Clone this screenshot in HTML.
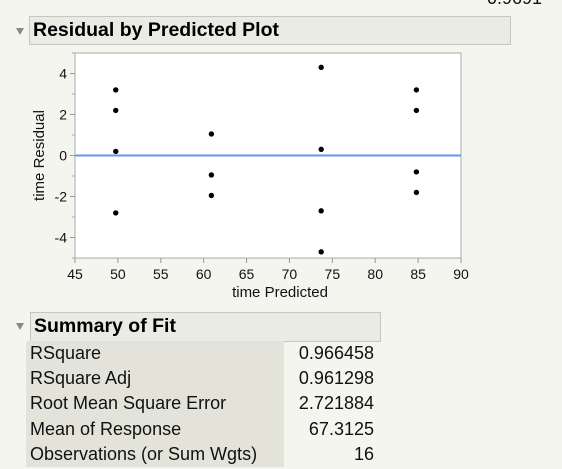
<!DOCTYPE html>
<html><head><meta charset="utf-8"><style>
body{margin:0;width:562px;height:469px;background:#f5f5f0;font-family:"Liberation Sans",Arial,sans-serif;position:relative;overflow:hidden}
.hdr{position:absolute;background:#ebebe5;border:1px solid #c6c6be;box-sizing:border-box;font-weight:bold;font-size:19.5px;color:#000;padding-left:3px;line-height:26px}
.tri{position:absolute;width:0;height:0;border-left:4px solid transparent;border-right:4px solid transparent;border-top:7px solid #888}
.lab{position:absolute;left:26px;top:341px;width:258px;height:126px;background:#e3e3d9}
.row{position:absolute;font-size:18px;color:#111}
</style></head><body>
<div style="position:absolute;left:487px;top:-12px;font-size:18px;color:#111">0.9691</div>
<div class="tri" style="left:16px;top:28px"></div>
<div class="hdr" style="left:29px;top:16px;width:482px;height:29px">Residual by Predicted Plot</div>
<svg id="chart" width="562" height="310" style="position:absolute;left:0;top:0"></svg>
<div class="tri" style="left:16px;top:323px"></div>
<div class="hdr" style="left:30px;top:312px;width:351px;height:30px">Summary of Fit</div>
<div class="lab"></div>
<div id="rows"></div>
<script>
const categoriesX=[49.75,49.75,49.75,49.75,60.9,60.9,60.9,73.7,73.7,73.7,73.7,84.8,84.8,84.8,84.8];
const residuals=[3.2,2.2,0.2,-2.8,1.05,-0.95,-1.95,4.3,0.3,-2.7,-4.7,3.2,2.2,-0.8,-1.8];
const xTicks=[45,50,55,60,65,70,75,80,85,90];
const yTicks=[-4,-2,0,2,4];
const yMinor=[-5,-3,-1,1,3,5];
const L=75,R=461,T=53,B=258,x0=45,x1=90,y0=-5,y1=5;
const sx=v=>L+(v-x0)/(x1-x0)*(R-L);
const sy=v=>B-(v-y0)/(y1-y0)*(B-T);
const svg=document.getElementById('chart');const NS='http://www.w3.org/2000/svg';
function mk(t,a){const e=document.createElementNS(NS,t);for(const k in a)e.setAttribute(k,a[k]);svg.appendChild(e);return e;}
let e=mk('rect',{x:L,y:T,width:R-L,height:B-T,fill:'#fff',stroke:'#aaa','stroke-width':1});


e=mk('line',{x1:L,x2:R,y1:sy(0),y2:sy(0),stroke:'#6b93ee','stroke-width':2});


xTicks.forEach(v=>{mk('line',{x1:sx(v),x2:sx(v),y1:B,y2:B+5,stroke:'#999'});
const t=mk('text',{x:sx(v),y:B+21,'text-anchor':'middle','font-size':14,fill:'#111'});t.textContent=v;

});
yTicks.forEach(v=>{mk('line',{x1:L-5,x2:L,y1:sy(v),y2:sy(v),stroke:'#999'});
const t=mk('text',{x:L-8,y:sy(v)+5,'text-anchor':'end','font-size':14,fill:'#111'});t.textContent=v;

});
yMinor.forEach(v=>mk('line',{x1:L-3,x2:L,y1:sy(v),y2:sy(v),stroke:'#aaa'}));
let t=mk('text',{x:(L+R)/2+12,y:297,'text-anchor':'middle','font-size':15,fill:'#111'});t.textContent='time Predicted';


t=mk('text',{x:0,y:0,'text-anchor':'middle','font-size':15,fill:'#111',transform:`translate(44,${(T+B)/2}) rotate(-90)`});t.textContent='time Residual';


categoriesX.forEach((xv,i)=>{const c=mk('circle',{cx:sx(xv),cy:sy(residuals[i]),r:2.7,fill:'#000'});

});
const labels=['RSquare','RSquare Adj','Root Mean Square Error','Mean of Response','Observations (or Sum Wgts)'];
const values=['0.966458','0.961298','2.721884','67.3125','16'];
const rows=document.getElementById('rows');
labels.forEach((l,i)=>{const y=343+i*25.2;
const a=document.createElement('div');a.className='row';a.style.left='30px';a.style.top=y+'px';a.textContent=l;


rows.appendChild(a);
const b=document.createElement('div');b.className='row';b.style.right=(562-374)+'px';b.style.top=y+'px';b.textContent=values[i];


rows.appendChild(b);});
</script>
</body></html>
